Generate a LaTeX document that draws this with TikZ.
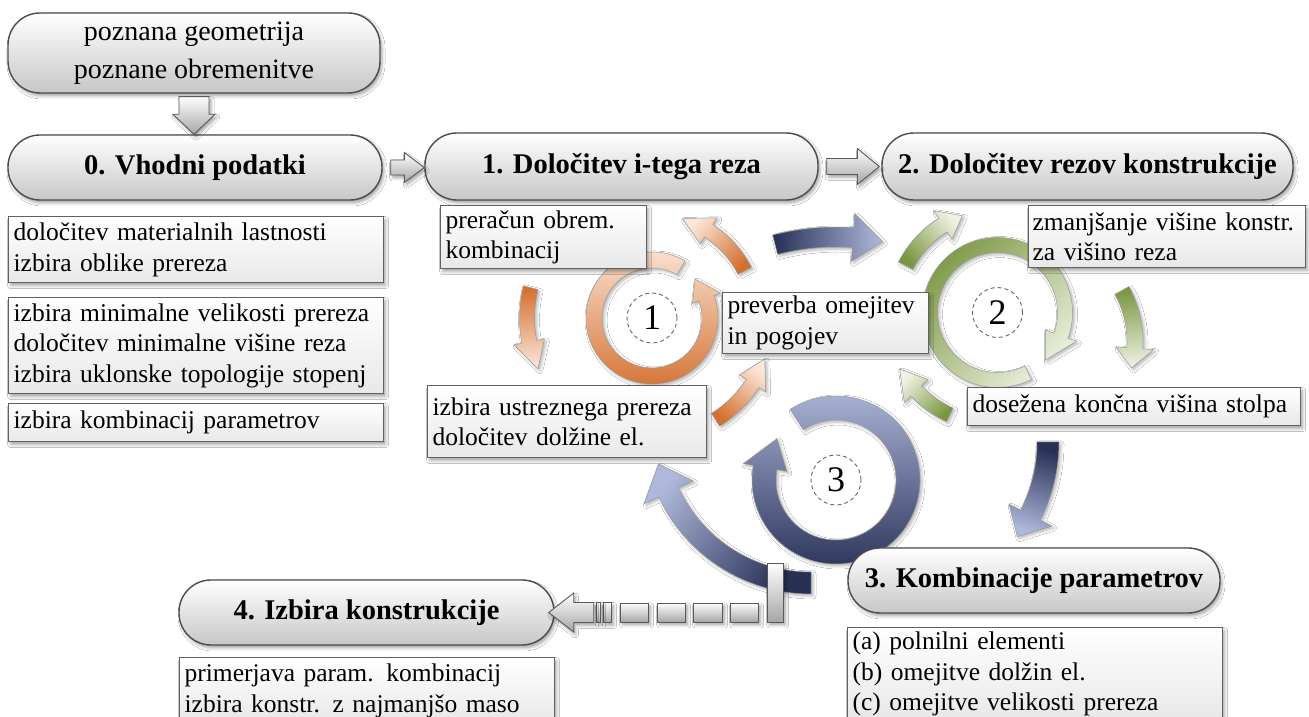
\documentclass[tikz,border=0pt]{standalone}
\usepackage{fontspec}
\setmainfont{Liberation Serif}
\usetikzlibrary{shadows.blur,calc}

\definecolor{orD}{HTML}{D4702F}
\definecolor{orL}{HTML}{FBE6D8}
\definecolor{grD}{HTML}{7A9640}
\definecolor{grL}{HTML}{EEF2E2}
\definecolor{nvD}{HTML}{283056}
\definecolor{nvL}{HTML}{AEB8DA}

\newcommand\fHead{\fontsize{28.5}{34}\selectfont\bfseries}
\newcommand\fTop{\fontsize{28}{38}\selectfont}
\newcommand\fSmall{\fontsize{25.5}{30.5}\selectfont}
\newcommand\fNum{\fontsize{36}{40}\selectfont}

% #1 style, #2 cx, #3 cy, #4 r, #5 width, #6 tail angle, #7 head base angle, #8 tip angle, #9 head extra
\newcommand\ArcArr[9]{%
  \pgfmathsetmacro\aaRo{#4+#5/2}%
  \pgfmathsetmacro\aaRi{#4-#5/2}%
  \pgfmathsetmacro\aaRoo{#4+#5/2+#9}%
  \pgfmathsetmacro\aaRii{#4-#5/2-#9}%
  \path[shift={(#2,#3)},#1] (#6:\aaRo) arc[start angle=#6, end angle=#7, radius=\aaRo pt]
    -- (#7:\aaRoo) -- (#8:#4) -- (#7:\aaRii) -- (#7:\aaRi)
    arc[start angle=#7, end angle=#6, radius=\aaRi pt] -- cycle;}

\tikzset{
  shsoft/.style={blur shadow={shadow xshift=2pt, shadow yshift=-3pt, shadow blur radius=3pt, shadow opacity=35}},
  stad/.style={rectangle, rounded corners=32pt, draw=black!70, line width=1.4pt,
    top color=white, bottom color=black!22, shsoft, inner sep=0pt, text=black},
  rbox/.style={rectangle, draw=black!62, line width=1.3pt, top color=white, bottom color=black!9,
    shsoft, anchor=north west, inner xsep=5pt, inner ysep=0pt, align=left, font=\fSmall, text=black},
  garr/.style={draw=black!65, line width=0.9pt, top color=white, bottom color=black!35, shsoft},
  carr/.style={draw=black!40, line width=0.5pt,
    blur shadow={shadow xshift=2pt, shadow yshift=-2pt, shadow blur radius=3pt, shadow opacity=30}},
  dcirc/.style={circle, draw=black!60, dash pattern=on 4pt off 3pt, line width=0.9pt,
    minimum size=50pt, inner sep=0pt, font=\fNum, text=black},
}

\begin{document}
\begin{tikzpicture}[x=1pt,y=1pt]
\useasboundingbox (0,0) rectangle (1309,717);
\fill[white] (0,0) rectangle (1309,717);

% ---- cycle 1 (orange)
\ArcArr{carr, top color=orL, bottom color=orD, shading angle=50}{652}{399}{104}{15}{27}{57}{73}{8}
\ArcArr{carr, top color=orL, bottom color=orD, shading angle=-175}{652}{399}{125}{15}{166}{191}{204}{8}
\ArcArr{carr, top color=orL, bottom color=orD, shading angle=-39}{652}{399}{120}{15}{-58}{-33}{-20}{8}
\ArcArr{carr, top color=orL, bottom color=orD}{652}{399}{58}{16}{60}{380}{402}{7}

% ---- cycle 2 (green)
\ArcArr{carr, top color=grL, bottom color=grD, shading angle=-48}{997.5}{404.5}{103}{16}{153}{122}{110}{9}
\ArcArr{carr, top color=grL, bottom color=grD, shading angle=-173}{1031}{376}{104}{16}{29}{-4}{-15}{11}
\ArcArr{carr, top color=grL, bottom color=grD, shading angle=47}{997.5}{404.5}{113}{15}{-115}{-136}{-150}{9}
\ArcArr{carr, top color=grD, bottom color=grL, shading angle=45}{997.5}{404.5}{67.5}{15}{-63}{-380}{-405}{9}

% ---- cycle 3 (navy)
\ArcArr{carr, top color=nvL, bottom color=nvD, shading angle=-88}{836}{237}{243}{20}{104.5}{86}{79}{14}
\ArcArr{carr, top color=nvL, bottom color=nvD, shading angle=162}{887}{275}{161}{22}{0}{-27}{-36}{13}
\ArcArr{carr, top color=nvL, bottom color=nvD, shading angle=52}{811}{291}{157}{22}{-90}{-155}{-166}{16}
\ArcArr{carr, top color=nvL, bottom color=nvD}{836}{237}{72}{24}{123}{-190}{-215}{10}

% ---- dashed number circles
\node[dcirc] (c1) at (652,399) {1};
\node[dcirc] (c2) at (997.5,404.5) {2};
\node[dcirc] (c3) at (836,237) {3};

% ---- main stadium boxes
\node[stad, minimum width=372pt, minimum height=80pt, font=\fTop, align=center] (top) at (194,664) {poznana geometrija\\poznane obremenitve};
\node[stad, minimum width=374pt, minimum height=65pt, font=\fHead] (b0) at (195,549.5) {0. Vhodni podatki};
\node[stad, minimum width=393pt, minimum height=67pt, font=\fHead] (b1) at (621.5,550.5) {1. Določitev i-tega reza};
\node[stad, minimum width=411pt, minimum height=67pt, font=\fHead] (b2) at (1087.5,550.5) {2. Določitev rezov konstrukcije};
\node[stad, minimum width=372pt, minimum height=65pt, font=\fHead] (b3) at (1034,136.5) {3. Kombinacije parametrov};
\node[stad, minimum width=375pt, minimum height=65pt, font=\fHead] (b4) at (366.5,104.5) {4. Izbira konstrukcije};

% ---- text boxes
\node[rbox, minimum width=375pt, text width=365pt, minimum height=66pt] (bA) at (8,501) {določitev materialnih lastnosti\\izbira oblike prereza};
\node[rbox, minimum width=375pt, text width=365pt, minimum height=96pt] (bB) at (8,420) {izbira minimalne velikosti prereza\\določitev minimalne višine reza\\izbira uklonske topologije stopenj};
\node[rbox, minimum width=375pt, text width=365pt, minimum height=38pt] (bC) at (8,314) {izbira kombinacij parametrov};
\node[rbox, minimum width=206pt, text width=196pt, minimum height=63pt] (bP) at (440,512) {preračun obrem.\\kombinacij};
\node[rbox, minimum width=206pt, text width=196pt, minimum height=61pt] (bV) at (722,425) {preverba omejitev\\in pogojev};
\node[rbox, minimum width=279pt, text width=269pt, minimum height=72pt] (bI) at (427,332) {izbira ustreznega prereza\\določitev dolžine el.};
\node[rbox, minimum width=277pt, text width=269pt, inner xsep=4pt, minimum height=62pt] (bZ) at (1028,512) {zmanjšanje višine konstr.\\za višino reza};
\node[rbox, minimum width=333pt, text width=323pt, minimum height=38pt] (bD) at (967,330) {dosežena končna višina stolpa};
\node[rbox, minimum width=375pt, text width=365pt, minimum height=93pt] (bK) at (847,90) {(a) polnilni elementi\\(b) omejitve dolžin el.\\(c) omejitve velikosti prereza};
\node[rbox, minimum width=375pt, text width=365pt, minimum height=66pt] (bS) at (179,60) {primerjava param. kombinacij\\izbira konstr. z najmanjšo maso};

% ---- gray block arrows
\path[garr] let \p1=($(top.south)+(0,-3)$), \p2=(b0.north) in
  (\x1-15pt,\y1) -- (\x1+15pt,\y1) -- (\x1+15pt,\y2+20pt) -- (\x1+21pt,\y2+20pt)
  -- (\x1,\y2) -- (\x1-21pt,\y2+20pt) -- (\x1-15pt,\y2+20pt) -- cycle;
\path[garr] let \p1=($(b0.east)+(8,0)$), \p2=(b1.west) in
  (\x1,\y1+7.5pt) -- (\x2-20pt,\y1+7.5pt) -- (\x2-20pt,\y1+15pt) -- (\x2,\y1)
  -- (\x2-20pt,\y1-15pt) -- (\x2-20pt,\y1-7.5pt) -- (\x1,\y1-7.5pt) -- cycle;
\path[garr] let \p1=($(b1.east)+(8,0)$), \p2=($(b2.west)+(-2,0)$) in
  (\x1,\y1+8pt) -- (\x2-22pt,\y1+8pt) -- (\x2-22pt,\y1+18pt) -- (\x2,\y1)
  -- (\x2-22pt,\y1-18pt) -- (\x2-22pt,\y1-8pt) -- (\x1,\y1-8pt) -- cycle;

% ---- striped arrow into box 4
\begin{scope}[shift={(b4.east)}]
  \path[garr] (213,-9.5) rectangle (229,49.5);
  \path[garr] (176,-9.5) rectangle (204,9.5);
  \path[garr] (139,-9.5) rectangle (168,9.5);
  \path[garr] (103,-9.5) rectangle (131,9.5);
  \path[garr] (66,-9.5) rectangle (94,9.5);
  \path[garr] (49,-10) rectangle (57,10);
  \path[garr] (42,-10) rectangle (46,10);
  \path[garr] (-6,0) -- (19,19.5) -- (19,10) -- (39,10) -- (39,-10) -- (19,-10) -- (19,-19.5) -- cycle;
\end{scope}
\end{tikzpicture}
\end{document}
